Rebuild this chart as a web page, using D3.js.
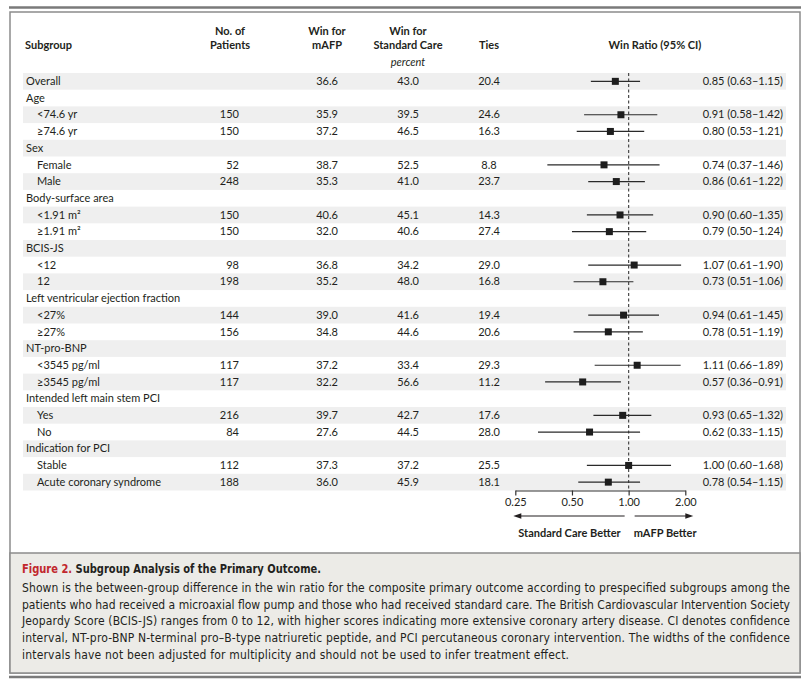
<!DOCTYPE html>
<html>
<head>
<meta charset="UTF-8">
<style>
  body { margin: 0; background: #ffffff; }
  svg text { fill: #231f20; }
  .tbl { font-family: Lato, "Noto Sans", sans-serif; font-size: 11px; }
  .hdr { font-weight: bold; }
  .cap { font-family: "Liberation Sans Narrow", "DejaVu Sans Condensed", Lato, sans-serif; font-size: 12px; }
</style>
<script src="https://cdn.jsdelivr.net/npm/d3@7"></script>
</head>
<body>
<svg id="chart" width="811" height="688"></svg>
<script>
// ---- data ----
var labels = ["Overall", "Age", "<74.6 yr", "\u226574.6 yr", "Sex", "Female", "Male",
  "Body-surface area", "<1.91 m\u00b2", "\u22651.91 m\u00b2", "BCIS-JS", "<12", "12",
  "Left ventricular ejection fraction", "<27%", "\u226527%", "NT-pro-BNP", "<3545 pg/ml",
  "\u22653545 pg/ml", "Intended left main stem PCI", "Yes", "No", "Indication for PCI",
  "Stable", "Acute coronary syndrome"];
var indent   = [0,0,1,1,0,1,1,0,1,1,0,1,1,0,1,1,0,1,1,0,1,1,0,1,1];
var patients = [null,null,150,150,null,52,248,null,150,150,null,98,198,null,144,156,null,117,117,null,216,84,null,112,188];
var winMafp  = ["36.6",null,"35.9","37.2",null,"38.7","35.3",null,"40.6","32.0",null,"36.8","35.2",null,"39.0","34.8",null,"37.2","32.2",null,"39.7","27.6",null,"37.3","36.0"];
var winStd   = ["43.0",null,"39.5","46.5",null,"52.5","41.0",null,"45.1","40.6",null,"34.2","48.0",null,"41.6","44.6",null,"33.4","56.6",null,"42.7","44.5",null,"37.2","45.9"];
var ties     = ["20.4",null,"24.6","16.3",null,"8.8","23.7",null,"14.3","27.4",null,"29.0","16.8",null,"19.4","20.6",null,"29.3","11.2",null,"17.6","28.0",null,"25.5","18.1"];
var ratio    = [0.85,null,0.91,0.80,null,0.74,0.86,null,0.90,0.79,null,1.07,0.73,null,0.94,0.78,null,1.11,0.57,null,0.93,0.62,null,1.00,0.78];
var ciLow    = [0.63,null,0.58,0.53,null,0.37,0.61,null,0.60,0.50,null,0.61,0.51,null,0.61,0.51,null,0.66,0.36,null,0.65,0.33,null,0.60,0.54];
var ciHigh   = [1.15,null,1.42,1.21,null,1.46,1.22,null,1.35,1.24,null,1.90,1.06,null,1.45,1.19,null,1.89,0.91,null,1.32,1.15,null,1.68,1.15];
var tickVals = [0.25, 0.5, 1, 2];
var tickLabels = ["0.25", "0.50", "1.00", "2.00"];
var captionLines = [
  "Shown is the between-group difference in the win ratio for the composite primary outcome according to prespecified subgroups among the",
  "patients who had received a microaxial flow pump and those who had received standard care. The British Cardiovascular Intervention Society",
  "Jeopardy Score (BCIS-JS) ranges from 0 to 12, with higher scores indicating more extensive coronary artery disease. CI denotes confidence",
  "interval, NT-pro-BNP N-terminal pro\u2013B-type natriuretic peptide, and PCI percutaneous coronary intervention. The widths of the confidence",
  "intervals have not been adjusted for multiplicity and should not be used to infer treatment effect."
];
// widths the caption lines take up in the figure (justified text)
var captionWidths = [768, 768, 768, 768, 547];

var svg = d3.select("#chart");

// frame
svg.append("rect").attr("x", 10).attr("y", 12).attr("width", 790).attr("height", 661)
  .attr("fill", "#ffffff").attr("stroke", "#8c8c8c").attr("stroke-width", 1.5);
svg.append("rect").attr("x", 10).attr("y", 553).attr("width", 790).attr("height", 120)
  .attr("fill", "#ecebe7").attr("stroke", "#8c8c8c").attr("stroke-width", 1.5);
svg.append("line").attr("x1", 9).attr("x2", 801).attr("y1", 7.5).attr("y2", 7.5)
  .attr("stroke", "#7a7a7a").attr("stroke-width", 2.5);
svg.append("line").attr("x1", 9).attr("x2", 801).attr("y1", 677).attr("y2", 677)
  .attr("stroke", "#7a7a7a").attr("stroke-width", 2.5);

// scales
var rowH = 16.7, top0 = 73;
var y = d3.scaleBand().domain(d3.range(labels.length))
  .range([top0, top0 + rowH * labels.length]).padding(0);
var x = d3.scaleLog().base(2).domain([0.25, 2]).range([515.3, 685.3]);

// row stripes
svg.append("g").selectAll("rect").data(d3.range(0, labels.length, 2)).enter()
  .append("rect")
  .attr("x", 23).attr("width", 763)
  .attr("y", function(i){ return y(i); })
  .attr("height", y.bandwidth())
  .attr("fill", "#efefef");

// header
var hdr = svg.append("g").attr("class", "tbl hdr");
hdr.append("text").attr("x", 25).attr("y", 49).text("Subgroup");
hdr.append("text").attr("x", 230).attr("y", 35).attr("text-anchor", "middle").text("No. of");
hdr.append("text").attr("x", 230).attr("y", 49).attr("text-anchor", "middle").text("Patients");
hdr.append("text").attr("x", 327).attr("y", 35).attr("text-anchor", "middle").text("Win for");
hdr.append("text").attr("x", 327).attr("y", 49).attr("text-anchor", "middle").text("mAFP");
hdr.append("text").attr("x", 408).attr("y", 35).attr("text-anchor", "middle").text("Win for");
hdr.append("text").attr("x", 408).attr("y", 49).attr("text-anchor", "middle").text("Standard Care");
hdr.append("text").attr("x", 489).attr("y", 49).attr("text-anchor", "middle").text("Ties");
hdr.append("text").attr("x", 655).attr("y", 49).attr("text-anchor", "middle").text("Win Ratio (95% CI)");
svg.append("text").attr("class", "tbl").attr("x", 408).attr("y", 66)
  .attr("text-anchor", "middle").attr("font-style", "italic").attr("font-size", "10px").text("percent");

// table rows
var rows = svg.append("g").attr("class", "tbl");
labels.forEach(function(lab, i){
  var by = y(i) + 12;
  rows.append("text").attr("x", indent[i] ? 37 : 26).attr("y", by).text(lab);
  if (patients[i] !== null) rows.append("text").attr("x", 239).attr("y", by).attr("text-anchor", "end").text(patients[i]);
  if (winMafp[i] !== null) rows.append("text").attr("x", 327).attr("y", by).attr("text-anchor", "middle").text(winMafp[i]);
  if (winStd[i] !== null) rows.append("text").attr("x", 408).attr("y", by).attr("text-anchor", "middle").text(winStd[i]);
  if (ties[i] !== null) rows.append("text").attr("x", 489).attr("y", by).attr("text-anchor", "middle").text(ties[i]);
  if (ratio[i] !== null) rows.append("text").attr("x", 783).attr("y", by).attr("text-anchor", "end")
    .text(ratio[i].toFixed(2) + " (" + ciLow[i].toFixed(2) + "\u2013" + ciHigh[i].toFixed(2) + ")");
});

// reference line at 1
svg.append("line").attr("x1", x(1)).attr("x2", x(1))
  .attr("y1", top0).attr("y2", y.range()[1])
  .attr("stroke", "#4a4a4a").attr("stroke-width", 1.2).attr("stroke-dasharray", "3,2.5");

// CIs and points
var idx = d3.range(labels.length).filter(function(i){ return ratio[i] !== null; });
var plot = svg.append("g");
plot.selectAll("line.ci").data(idx).enter().append("line")
  .attr("class", "ci")
  .attr("x1", function(i){ return x(ciLow[i]); })
  .attr("x2", function(i){ return x(ciHigh[i]); })
  .attr("y1", function(i){ return y(i) + y.bandwidth() / 2; })
  .attr("y2", function(i){ return y(i) + y.bandwidth() / 2; })
  .attr("stroke", "#2a2a2a").attr("stroke-width", 1.2);
var sq = 7;
plot.selectAll("rect.pt").data(idx).enter().append("rect")
  .attr("class", "pt")
  .attr("x", function(i){ return x(ratio[i]) - sq / 2; })
  .attr("y", function(i){ return y(i) + y.bandwidth() / 2 - sq / 2; })
  .attr("width", sq).attr("height", sq)
  .attr("fill", "#1e1e1e");

// axis
var axisY = y.range()[1];
var ax = svg.append("g").attr("transform", "translate(0," + axisY + ")")
  .call(d3.axisBottom(x).tickValues(tickVals)
    .tickFormat(function(d, i){ return tickLabels[i]; })
    .tickSize(5).tickPadding(3).tickSizeOuter(0));
ax.select(".domain").attr("stroke", "#333").attr("stroke-width", 1.2);
ax.selectAll(".tick line").attr("stroke", "#333").attr("stroke-width", 1.2);
ax.selectAll(".tick text").attr("font-family", "Lato, 'Noto Sans', sans-serif")
  .attr("font-size", "11px").attr("fill", "#231f20");

// direction arrows
var arrY = 516;
function arrow(x1, x2) {
  var dir = x2 > x1 ? 1 : -1;
  svg.append("line").attr("x1", x1).attr("x2", x2 - dir * 6).attr("y1", arrY).attr("y2", arrY)
    .attr("stroke", "#231f20").attr("stroke-width", 1.2);
  svg.append("path")
    .attr("d", "M" + x2 + "," + arrY + " L" + (x2 - dir * 8) + "," + (arrY - 2.8) + " L" + (x2 - dir * 8) + "," + (arrY + 2.8) + " Z")
    .attr("fill", "#231f20");
}
arrow(x(1) - 4, x(0.25) - 2);
arrow(x(1) + 6, x(2) + 8);
svg.append("text").attr("class", "tbl hdr").attr("x", x(1) - 8).attr("y", 537)
  .attr("text-anchor", "end").text("Standard Care Better");
svg.append("text").attr("class", "tbl hdr").attr("x", x(1) + 5).attr("y", 537)
  .text("mAFP Better");

// caption
var t = svg.append("text").attr("class", "cap").attr("x", 22).attr("y", 573)
  .attr("font-weight", "bold").attr("textLength", 299).attr("lengthAdjust", "spacingAndGlyphs");
t.append("tspan").style("fill", "#c1272d").text("Figure 2. ");
t.append("tspan").text("Subgroup Analysis of the Primary Outcome.");
captionLines.forEach(function(line, i){
  svg.append("text").attr("class", "cap").attr("x", 22).attr("y", 592 + i * 16.7)
    .attr("textLength", captionWidths[i]).attr("lengthAdjust", "spacing").text(line);
});
</script>
</body>
</html>
